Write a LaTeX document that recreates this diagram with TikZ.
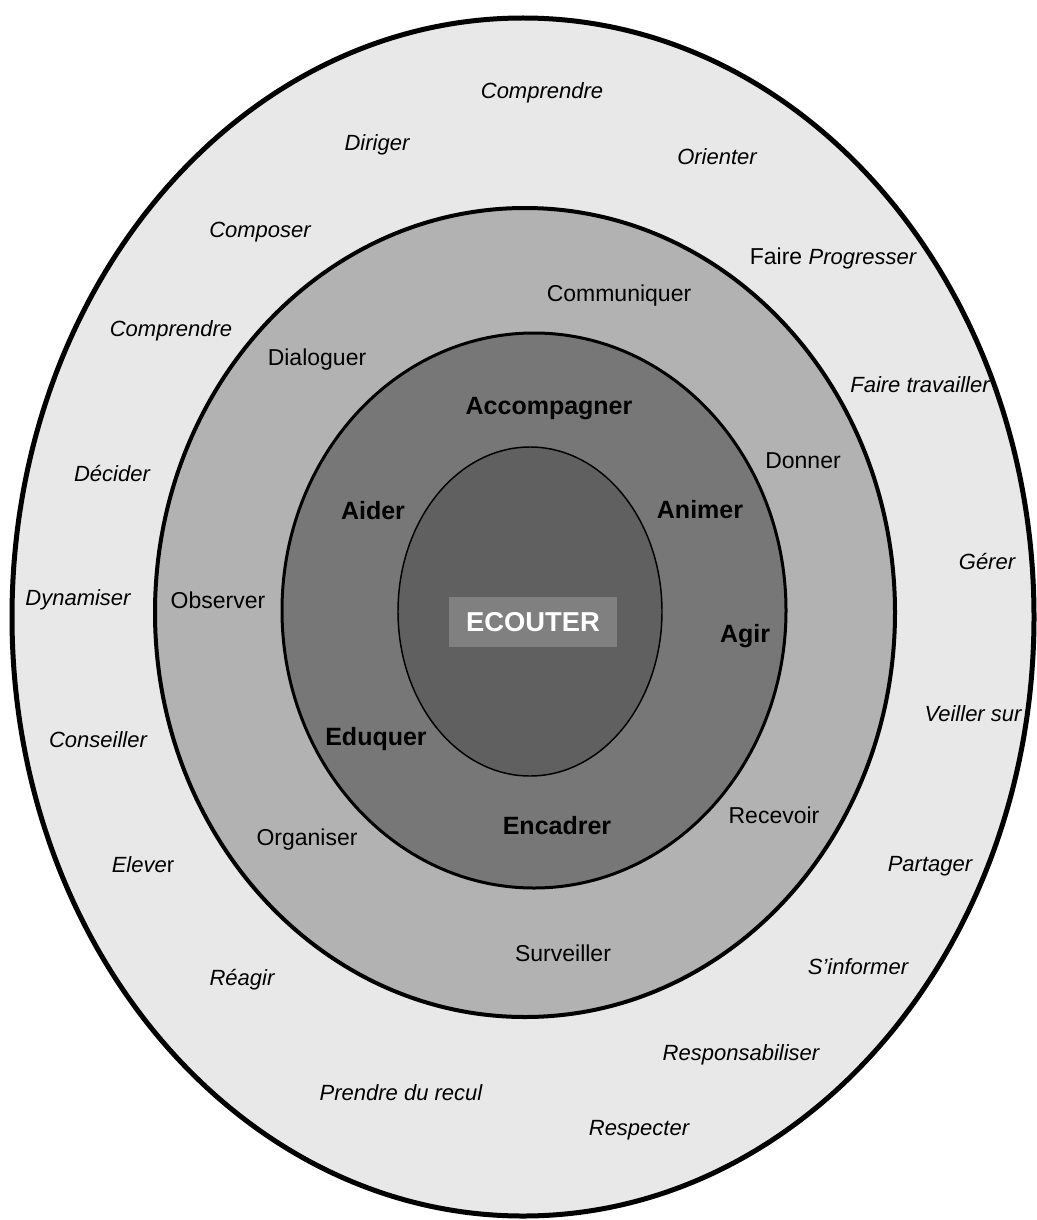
\documentclass[tikz,border=0pt]{standalone}
\usepackage{fontspec}
\setmainfont{Liberation Sans}
\definecolor{ringA}{HTML}{E8E8E8}
\definecolor{ringB}{HTML}{B2B2B2}
\definecolor{ringC}{HTML}{777777}
\definecolor{ringD}{HTML}{606060}
\definecolor{boxc}{HTML}{808080}
\tikzset{
  ital/.style={inner sep=0pt, font=\fontsize{16.5}{18}\selectfont\itshape},
  regl/.style={inner sep=0pt, font=\fontsize{17.25}{19}\selectfont},
  bld/.style={inner sep=0pt, font=\fontsize{18.75}{21}\selectfont\bfseries},
}
\begin{document}
\begin{tikzpicture}[x=0.75pt,y=-0.75pt]
\useasboundingbox (0,0) rectangle (1036,1220);
\fill[white] (0,0) rectangle (1036,1220);
% rings
\draw[line width=3.75pt, fill=ringA] (523,617) ellipse [x radius=511, y radius=599];
\draw[line width=3pt, fill=ringB] (525,612.5) ellipse [x radius=370, y radius=404.5];
\draw[line width=2.25pt, fill=ringC] (534,610.5) ellipse [x radius=252, y radius=277.5];
\draw[line width=1.1pt, fill=ringD] (530,611.5) ellipse [x radius=132, y radius=164.5];
% centre
\node[fill=boxc, minimum width=126pt, minimum height=37.5pt, inner sep=0pt,
      text=white, font=\fontsize{20.5}{22}\selectfont\bfseries] (ecouter) at (533,622) {ECOUTER};
% outer ring
\node[ital] (comprendreA) at (542,93) {Comprendre};
\node[ital] (diriger) at (377,145) {Diriger};
\node[ital] (orienter) at (717,157) {Orienter};
\node[ital] (composer) at (260,232) {Composer};
\node[regl] (progresser) at (833,258) {Faire \fontsize{16.5}{18}\selectfont\itshape Progresser};
\node[ital] (comprendreB) at (171,331) {Comprendre};
\node[ital] (travailler) at (920,385) {Faire travailler};
\node[ital] (decider) at (112,474) {Décider};
\node[ital] (gerer) at (987,562) {Gérer};
\node[ital] (dynamiser) at (78,600) {Dynamiser};
\node[ital] (veiller) at (973,714) {Veiller sur};
\node[ital] (conseiller) at (98,740) {Conseiller};
\node[ital] (partager) at (930,866) {Partager};
\node[ital] (elever) at (143,865) {Eleve\upshape r};
\node[ital] (sinformer) at (858,967) {S’informer};
\node[ital] (reagir) at (242,980) {Réagir};
\node[ital] (responsabiliser) at (741,1055) {Responsabiliser};
\node[ital] (recul) at (401,1093) {Prendre du recul};
\node[ital] (respecter) at (639,1130) {Respecter};
% second ring
\node[regl] (communiquer) at (619,296) {Communiquer};
\node[regl] (dialoguer) at (317,360) {Dialoguer};
\node[regl] (donner) at (803,461) {Donner};
\node[regl] (observer) at (218,600) {Observer};
\node[regl] (recevoir) at (774,815) {Recevoir};
\node[regl] (organiser) at (307,840) {Organiser};
\node[regl] (surveiller) at (563,953) {Surveiller};
% third ring
\node[bld] (accompagner) at (549,409) {Accompagner};
\node[bld] (aider) at (373,511) {Aider};
\node[bld] (animer) at (700,510) {Animer};
\node[bld] (agir) at (745,636) {Agir};
\node[bld] (eduquer) at (376,739) {Eduquer};
\node[bld] (encadrer) at (557,826) {Encadrer};
\end{tikzpicture}
\end{document}
